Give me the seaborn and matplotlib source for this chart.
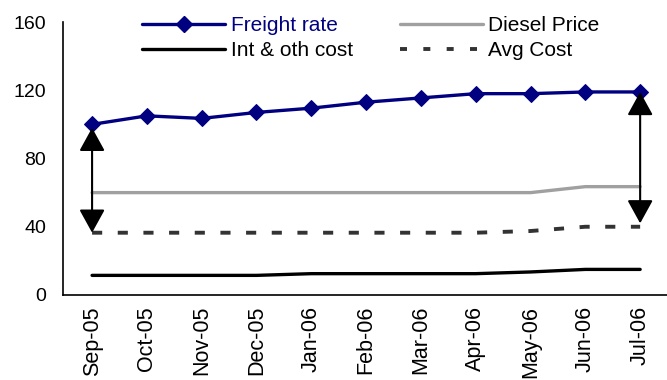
import matplotlib
matplotlib.use("Agg")
import matplotlib.pyplot as plt
from matplotlib.lines import Line2D
import seaborn as sns
import pandas as pd

months = ["Sep-05", "Oct-05", "Nov-05", "Dec-05", "Jan-06", "Feb-06",
          "Mar-06", "Apr-06", "May-06", "Jun-06", "Jul-06"]
freight_rate = [100, 105, 103.5, 107, 109.5, 113, 115.5, 118, 118, 119, 119]
diesel_price = [60, 60, 60, 60, 60, 60, 60, 60, 60, 63.5, 63.5]
int_oth_cost = [11.5, 11.5, 11.5, 11.5, 12.5, 12.5, 12.5, 12.5, 13.5, 15, 15]
avg_cost = [36.5, 36.5, 36.5, 36.5, 36.5, 36.5, 36.5, 36.5, 37.5, 40, 40]
y_ticks = [0, 40, 80, 120, 160]

sns.set_theme(style="white")
plt.rcParams["font.family"] = ["Liberation Sans", "DejaVu Sans"]
plt.rcParams["text.color"] = "black"
plt.rcParams["xtick.color"] = "black"
plt.rcParams["ytick.color"] = "black"

df = pd.DataFrame({"pos": range(len(months)), "month": months,
                   "freight": freight_rate, "diesel": diesel_price,
                   "intcost": int_oth_cost, "avg": avg_cost})

fig = plt.figure(figsize=(6.67, 3.80), dpi=100)
ax = fig.add_axes([0.0945, 0.2237, 0.9055, 0.7184])

navy = "#000080"
gray = "#a0a0a0"
dark = "#333333"
avg_dash = (0, (2.6, 4.0))

sns.lineplot(data=df, x="pos", y="diesel", ax=ax, color=gray, lw=2.4, sort=False)
sns.lineplot(data=df, x="pos", y="intcost", ax=ax, color="black", lw=2.4, sort=False)
sns.lineplot(data=df, x="pos", y="avg", ax=ax, color=dark, lw=2.8, sort=False,
             dashes=False, linestyle=avg_dash)
sns.lineplot(data=df, x="pos", y="freight", ax=ax, color=navy, lw=2.4, sort=False,
             marker="D", markersize=8, markeredgecolor=navy)

# spread between freight rate and average cost at the first and last month
spans = {0: (avg_cost[0], freight_rate[0] - 2),
         len(months) - 1: (avg_cost[-1] + 2, freight_rate[-1])}
for i, (lo, hi) in spans.items():
    ax.annotate("", xy=(i, lo), xytext=(i, hi),
                arrowprops=dict(arrowstyle="<|-|>,head_length=0.4,head_width=0.22",
                                color="black", lw=1.5,
                                mutation_scale=36, shrinkA=0, shrinkB=0))

ax.set_xlim(-0.53, 10.49)
ax.set_ylim(0, 160)
ax.set_xticks(range(len(months)))
ax.set_xticklabels(months, rotation=90, fontsize=15.5, color="black")
ax.set_yticks(y_ticks)
ax.set_yticklabels([str(v) for v in y_ticks], fontsize=14, color="black")
ax.set_xlabel("")
ax.set_ylabel("")
ax.tick_params(axis="both", length=0)
ax.tick_params(axis="y", pad=12)
ax.tick_params(axis="x", pad=8)
ax.grid(False)
for s in ("top", "right"):
    ax.spines[s].set_visible(False)
for s in ("left", "bottom"):
    ax.spines[s].set_color("black")
    ax.spines[s].set_linewidth(1.2)

handles = [
    Line2D([], [], color=navy, lw=2.4, marker="D", markersize=8),
    Line2D([], [], color="black", lw=2.4),
    Line2D([], [], color=gray, lw=2.4),
    Line2D([], [], color=dark, lw=2.8, linestyle=(0, (1.8, 4.2))),
]
labels = ["Freight rate", "Int & oth cost", "Diesel Price", "Avg Cost"]
leg = fig.legend(handles, labels, ncol=2, loc="upper left",
                 bbox_to_anchor=(142 / 667, 1 - 16 / 380), frameon=False,
                 fontsize=15, handlelength=4.0, handletextpad=0.25,
                 columnspacing=2.25, labelspacing=0.29, borderpad=0,
                 borderaxespad=0)
for t in leg.get_texts():
    t.set_color("black")
leg.get_texts()[0].set_color(navy)

fig.savefig("out.png", dpi=100)
